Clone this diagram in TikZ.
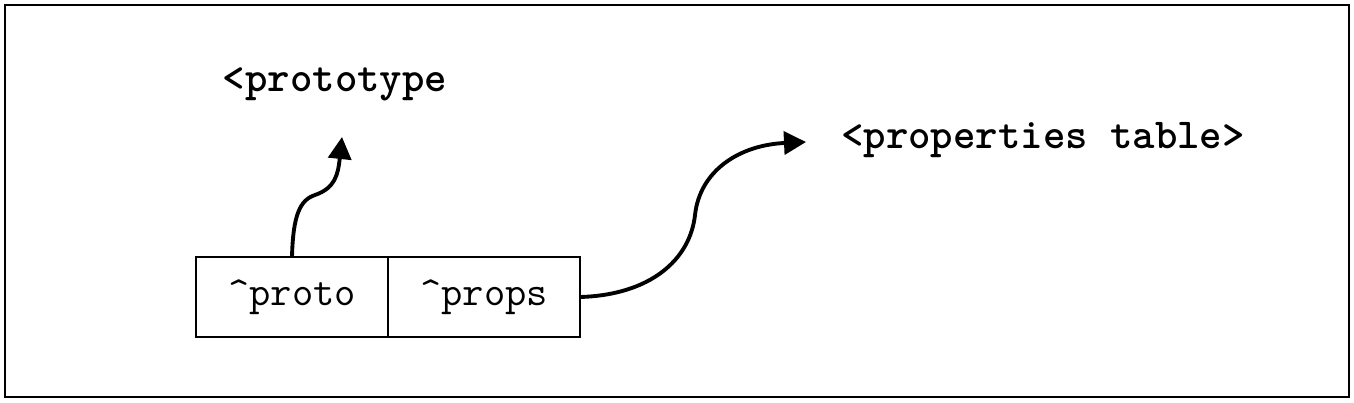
\documentclass[tikz,border=0pt]{standalone}
\usepackage{fontspec}
\usetikzlibrary{positioning, arrows.meta, calc}

\begin{document}
\begin{tikzpicture}
        \useasboundingbox (0,0) rectangle (27.08,8.04);
        \draw [line width=0.8pt] (0.1,0.1) rectangle (26.98,7.94);
        \tikzset{cell/.style={draw, line width=0.8pt, outer sep=0pt, minimum width=3.84cm, minimum height=1.6cm, font=\ttfamily\fontsize{23.5}{27}\selectfont},
                 label/.style={font=\ttfamily\bfseries\fontsize{24.3}{28}\selectfont},
                 ptr/.style={line width=2.2pt, -{Triangle[length=0.44cm, width=0.46cm]}}}
        \node (proto) [cell] at (5.84,2.10) {\textasciicircum proto};
        \node (props) [cell, right=0pt of proto] {\textasciicircum props};
        \node (ptype) [label] at (6.70,6.36) {<prototype};
        \node (ptable) [label] at (20.86,5.24) {<properties table>};
        \coordinate (ptip) at (6.84,5.30);
        \coordinate (ttip) at (16.12,5.20);
        \draw [ptr] (proto.north) .. controls (5.86,3.74) and (6.00,4.04) .. (6.30,4.14) .. controls (6.70,4.28) and (6.76,4.54) .. (ptip);
        \draw [ptr] (props.east) .. controls (13.0,2.14) and (13.8,2.84) .. (13.90,3.74) .. controls (14.0,4.64) and (14.8,5.14) .. (ttip);
    \end{tikzpicture}
\end{document}
